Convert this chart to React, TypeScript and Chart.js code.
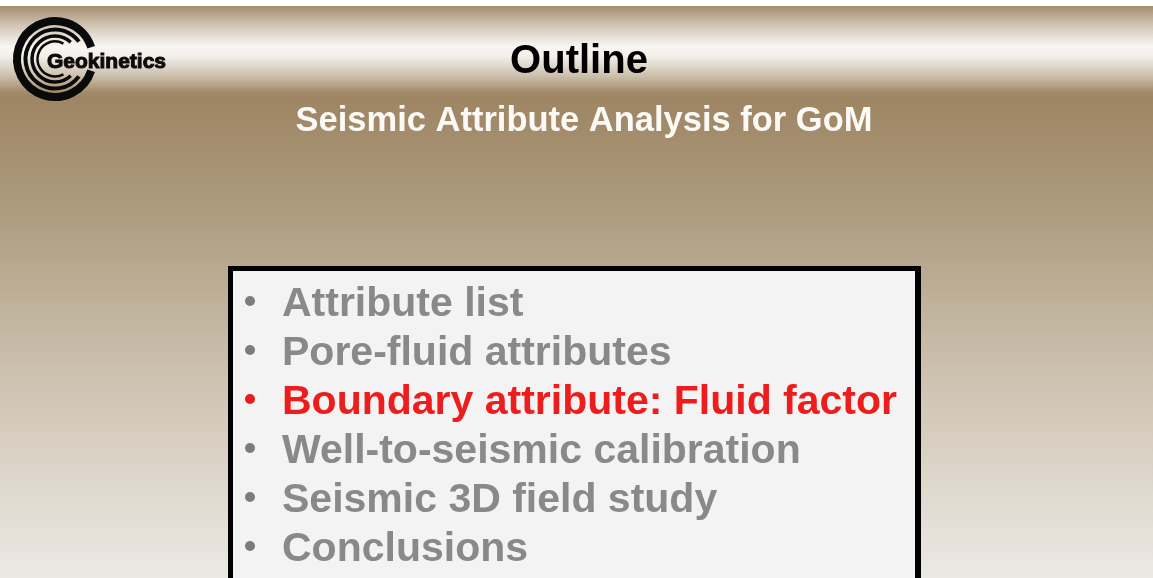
import React, { useEffect, useRef } from "react";
import { Chart, registerables } from "chart.js";

Chart.register(...registerables);

const TITLE = "Outline";
const SUBTITLE = "Seismic Attribute Analysis for GoM";
const LOGO_TEXT = "Geokinetics";
const OUTLINE_ITEMS = [
  "Attribute list",
  "Pore-fluid attributes",
  "Boundary attribute: Fluid factor",
  "Well-to-seismic calibration",
  "Seismic 3D field study",
  "Conclusions",
];
const HIGHLIGHTED = [false, false, true, false, false, false];
const ROW_INDEX = [0, 1, 2, 3, 4, 5];

const FONT = "'Liberation Sans', Arial, sans-serif";

export default function App() {
  const ref = useRef<HTMLCanvasElement>(null);

  useEffect(() => {
    document.body.style.margin = "0";
    const canvas = ref.current as HTMLCanvasElement;
    const W = 1153;
    const H = 578;

    const slidePlugin = {
      id: "slide",
      beforeDraw(chart: any) {
        const ctx: CanvasRenderingContext2D = chart.ctx;
        ctx.save();
        // page background
        ctx.fillStyle = "#ffffff";
        ctx.fillRect(0, 0, W, H);

        const low = ctx.createLinearGradient(0, 96, 0, H);
        low.addColorStop(0, "#9e8563");
        low.addColorStop(0.25, "#ae9d80");
        low.addColorStop(0.6, "#cfc4b3");
        low.addColorStop(1, "#ece9e4");
        ctx.fillStyle = low;
        ctx.fillRect(0, 96, W, H - 96);

        const head = ctx.createLinearGradient(0, 6, 0, 96);
        head.addColorStop(0, "#a58d6c");
        head.addColorStop(0.22, "#d2c6b6");
        head.addColorStop(0.45, "#f8f6f2");
        head.addColorStop(0.55, "#f4f1ec");
        head.addColorStop(0.78, "#cbbfab");
        head.addColorStop(0.95, "#a58d6c");
        head.addColorStop(1, "#9e8563");
        ctx.fillStyle = head;
        ctx.fillRect(0, 6, W, 90);

        // logo
        const cx = 55, cy = 59;
        ctx.strokeStyle = "#0a0a0a";
        ctx.lineCap = "butt";
        const rings = [
          { r: 38, w: 8, a: 0.1 },
          { r: 29.5, w: 4, a: 0.2 },
          { r: 23, w: 3.5, a: 0.26 },
          { r: 17.5, w: 2.5, a: 0.34 },
        ];
        rings.forEach((g) => {
          ctx.lineWidth = g.w;
          ctx.beginPath();
          ctx.arc(cx, cy, g.r, g.a * Math.PI, (2 - g.a) * Math.PI);
          ctx.stroke();
        });
        ctx.fillStyle = "#0a0a0a";
        ctx.font = `bold 21px ${FONT}`;
        ctx.textAlign = "left";
        ctx.textBaseline = "alphabetic";
        ctx.lineWidth = 1;
        ctx.fillText(LOGO_TEXT, 47, 68);
        ctx.strokeText(LOGO_TEXT, 47, 68);

        // title and subtitle
        ctx.textAlign = "center";
        ctx.fillStyle = "#000000";
        ctx.font = `bold 40px ${FONT}`;
        ctx.fillText(TITLE, 579, 73);
        ctx.fillStyle = "#fbfaf6";
        ctx.font = `bold 34.5px ${FONT}`;
        ctx.fillText(SUBTITLE, 584, 131);

        // box
        ctx.fillStyle = "#000000";
        ctx.fillRect(228, 266, 693, 400);
        ctx.fillStyle = "#f3f3f4";
        ctx.fillRect(233, 271, 682, 400);
        ctx.restore();
      },
      afterDraw(chart: any) {
        const ctx: CanvasRenderingContext2D = chart.ctx;
        const yScale = chart.scales.y;
        ctx.save();
        ctx.textAlign = "left";
        ctx.textBaseline = "alphabetic";
        ctx.font = `bold 41px ${FONT}`;
        OUTLINE_ITEMS.forEach((item, i) => {
          const yc = yScale.getPixelForValue(ROW_INDEX[i]);
          const red = HIGHLIGHTED[i];
          ctx.fillStyle = red ? "#e81c1c" : "#7c7c7c";
          ctx.beginPath();
          ctx.arc(250, yc, 5, 0, Math.PI * 2);
          ctx.fill();
          ctx.fillStyle = red ? "#ee1d1d" : "#898989";
          ctx.fillText(item, 282, yc + 15);
        });
        ctx.restore();
      },
    };

    const chart = new Chart(canvas, {
      type: "scatter",
      data: { datasets: [] },
      options: {
        responsive: false,
        animation: false,
        layout: { padding: 0 },
        plugins: {
          legend: { display: false },
          tooltip: { enabled: false },
          title: { display: false },
        },
        scales: {
          x: { display: false, min: 0, max: 1 },
          y: {
            display: false,
            reverse: true,
            min: -301 / 49,
            max: (H - 301) / 49,
          },
        },
      },
      plugins: [slidePlugin],
    } as any);

    return () => chart.destroy();
  }, []);

  return (
    <canvas
      ref={ref}
      width={1153}
      height={578}
      style={{ display: "block" }}
    />
  );
}
